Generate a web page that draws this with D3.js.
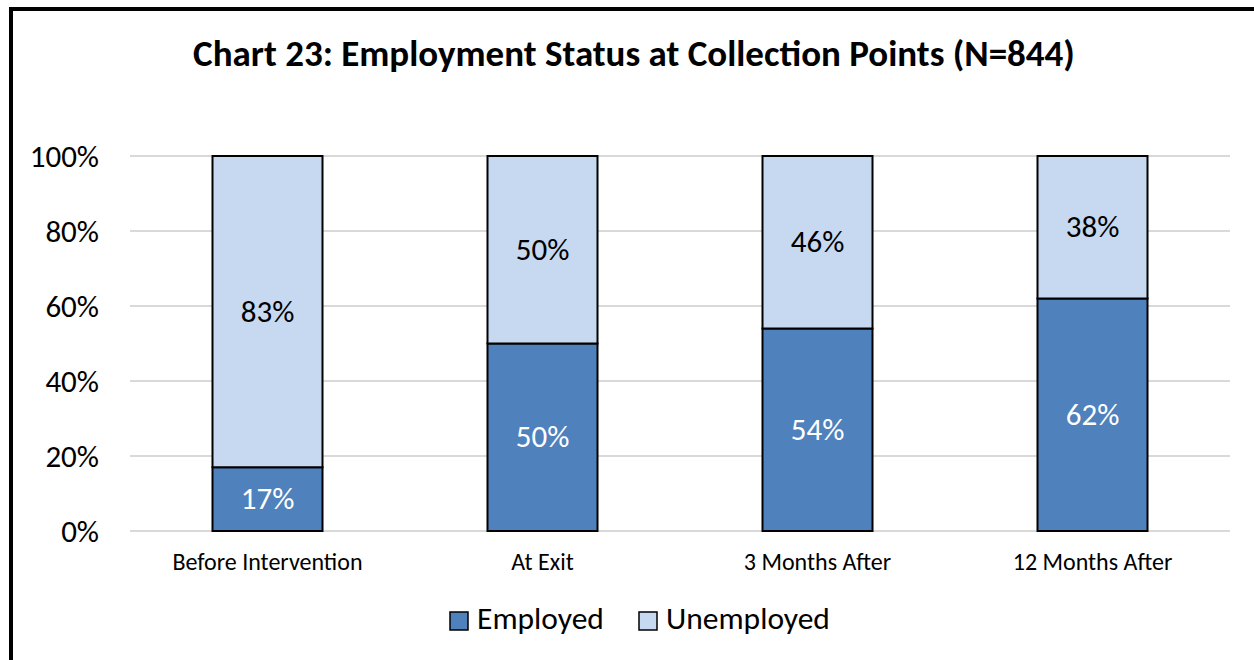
<!DOCTYPE html>
<html>
<head>
<meta charset="utf-8">
<script src="https://cdn.jsdelivr.net/npm/d3@7"></script>
<style>
  html, body { margin: 0; padding: 0; background: #fff; }
  svg { display: block; font-family: Carlito, Calibri, Lato, "Open Sans", sans-serif; }
</style>
</head>
<body>
<svg id="chart" width="1254" height="660"></svg>
<script>
// Employment status at each collection point (share of respondents, %)
const categories = ["Before Intervention", "At Exit", "3 Months After", "12 Months After"];
const employed   = [17, 50, 54, 62];
const unemployed = [83, 50, 46, 38];
const seriesNames = ["Employed", "Unemployed"];
const seriesColors = ["#4F81BD", "#C6D9F0"];
const yTicks = [0, 20, 40, 60, 80, 100];

const svg = d3.select("#chart");
const W = 1254, H = 660;
const FONT = "Carlito, Calibri, Lato, 'Open Sans', sans-serif";

// outer frame
svg.append("rect")
  .attr("x", 11).attr("y", 9)
  .attr("width", W + 20).attr("height", H + 20)
  .attr("fill", "#fff").attr("stroke", "#000").attr("stroke-width", 4);

// title
svg.append("text")
  .attr("x", 634).attr("y", 66)
  .attr("text-anchor", "middle")
  .attr("font-size", 37).attr("font-weight", "bold")
  .text("Chart 23: Employment Status at Collection Points (N=844)");

const plot = { left: 130, right: 1230, top: 156, bottom: 531 };

const x = d3.scaleBand()
  .domain(categories)
  .range([plot.left, plot.right])
  .paddingInner(0.6).paddingOuter(0.3);

const y = d3.scaleLinear().domain([0, 100]).range([plot.bottom, plot.top]);

// gridlines
svg.append("g").selectAll("line")
  .data(yTicks)
  .join("line")
  .attr("x1", plot.left).attr("x2", plot.right)
  .attr("y1", d => y(d)).attr("y2", d => y(d))
  .attr("stroke", "#D9D9D9").attr("stroke-width", 2);

// y axis labels
const yAxis = d3.axisLeft(y).tickValues(yTicks).tickFormat(d => d + "%").tickSize(0).tickPadding(0);
const gy = svg.append("g").attr("transform", `translate(${plot.left - 31},0)`).call(yAxis)
  .attr("font-family", FONT).attr("font-size", 31);
gy.select(".domain").remove();
gy.selectAll("text").attr("fill", "#000").attr("dy", "0.33em");

// x axis labels
const xAxis = d3.axisBottom(x).tickSize(0).tickPadding(0);
const gx = svg.append("g").attr("transform", `translate(0,${plot.bottom})`).call(xAxis)
  .attr("font-family", FONT).attr("font-size", 24);
gx.select(".domain").remove();
gx.selectAll("text").attr("fill", "#000").attr("dy", null).attr("y", 39);

// stacked data
const rows = categories.map((c, i) => ({ cat: c, Employed: employed[i], Unemployed: unemployed[i] }));
const stack = d3.stack().keys(seriesNames)(rows);

const layers = svg.append("g").selectAll("g")
  .data(stack)
  .join("g")
  .attr("fill", (d, i) => seriesColors[i]);

layers.selectAll("rect")
  .data(d => d)
  .join("rect")
  .attr("x", d => x(d.data.cat))
  .attr("width", x.bandwidth())
  .attr("y", d => y(d[1]))
  .attr("height", d => y(d[0]) - y(d[1]))
  .attr("stroke", "#000").attr("stroke-width", 2);

// value labels
stack.forEach((layer, li) => {
  svg.append("g").selectAll("text")
    .data(layer)
    .join("text")
    .attr("x", d => x(d.data.cat) + x.bandwidth() / 2)
    .attr("y", d => y((d[0] + d[1]) / 2))
    .attr("dy", "0.33em")
    .attr("text-anchor", "middle")
    .attr("font-size", 31)
    .attr("fill", li === 0 ? "#fff" : "#000")
    .text(d => (d[1] - d[0]) + "%");
});

// legend
const legend = svg.append("g");
const legendItems = [
  { name: seriesNames[0], color: seriesColors[0], x: 450 },
  { name: seriesNames[1], color: seriesColors[1], x: 639 }
];
legendItems.forEach(it => {
  legend.append("rect")
    .attr("x", it.x).attr("y", 612)
    .attr("width", 18).attr("height", 18)
    .attr("fill", it.color).attr("stroke", "#000").attr("stroke-width", 1.5);
  legend.append("text")
    .attr("x", it.x + 27).attr("y", 629)
    .attr("font-size", 31.5)
    .text(it.name);
});
</script>
</body>
</html>
